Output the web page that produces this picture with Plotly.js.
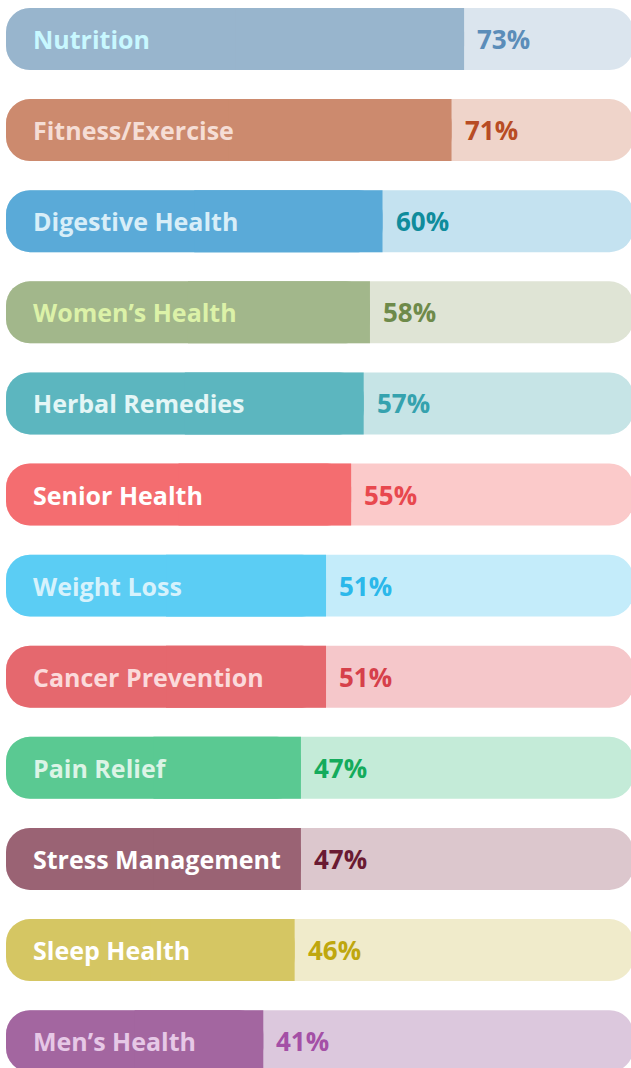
<!DOCTYPE html>
<html>
<head>
<meta charset="utf-8">
<script src="https://cdn.plot.ly/plotly-3.0.1.min.js"></script>
<style>html,body{margin:0;padding:0;background:#fff;}#chart{width:631px;height:1068px;}</style>
</head>
<body>
<div id="chart"></div>
<script>
const categories = ["Nutrition","Fitness/Exercise","Digestive Health","Women’s Health","Herbal Remedies","Senior Health","Weight Loss","Cancer Prevention","Pain Relief","Stress Management","Sleep Health","Men’s Health"];
const values = [73,71,60,58,57,55,51,51,47,47,46,41];
const fillColors = ["#98b5cd","#cc8a6e","#5aaad8","#a2b78b","#5cb6bf","#f46d70","#5bcdf4","#e5686e","#5ac992","#9a6374","#d5c663","#a366a0"];
const trackColors = ["#dbe5ee","#efd4ca","#c4e2f0","#dfe4d5","#c6e4e6","#fbcaca","#c4ecfa","#f5c7ca","#c4ebd8","#dcc7cd","#f0ebcb","#dcc8dd"];
const labelColors = ["#c8f8ff","#f5ddd5","#d8eef8","#dcf2a8","#e4f6f6","#ffffff","#d6f2fc","#fbdadb","#dcf4e6","#ffffff","#ffffff","#e6c8e6"];
const pctColors = ["#5b8db9","#b84c24","#0f8c9c","#6e8a4a","#35a2ae","#e8484e","#2bb8ea","#d6404a","#14ab5c","#6a1a32","#bfa70e","#a450a6"];
const pctLabels = values.map(v => v + "%");

const FULL = 100;
const W = 0.68, R = 24;
const font = "Open Sans, Noto Sans, sans-serif";

const traces = [
  // full track pill (rounded ends)
  {type:"bar", orientation:"h", y:categories, x:categories.map(()=>FULL), base:categories.map(()=>0),
   width:W, marker:{color:trackColors, cornerradius:R, line:{width:0}}, hoverinfo:"skip", showlegend:false},
  // filled value, rounded ends
  {type:"bar", orientation:"h", y:categories, x:values, base:values.map(()=>0),
   width:W, marker:{color:fillColors, cornerradius:R, line:{width:0}}, hoverinfo:"skip", showlegend:false},
  // square-off the value end of the fill
  {type:"bar", orientation:"h", y:categories, x:values.map(v=>v/2), base:values.map(v=>v/2),
   width:W, marker:{color:fillColors, line:{width:0}}, hoverinfo:"skip", showlegend:false}
];

const annotations = [];
categories.forEach((c,i)=>{
  annotations.push({x:0, y:c, xref:"x", yref:"y", text:c, showarrow:false, xanchor:"left", yanchor:"middle",
    xshift:25, font:{family:font, size:25, color:labelColors[i], weight:700}});
  annotations.push({x:values[i], y:c, xref:"x", yref:"y", text:pctLabels[i], showarrow:false, xanchor:"left", yanchor:"middle",
    xshift:11, font:{family:font, size:26, color:pctColors[i], weight:700}});
});

const layout = {
  width:631, height:1068,
  margin:{l:6, r:0, t:0, b:0},
  paper_bgcolor:"#ffffff", plot_bgcolor:"#ffffff",
  barmode:"overlay",
  xaxis:{range:[0, 99.6], visible:false, fixedrange:true},
  yaxis:{type:"category", categoryorder:"array", categoryarray:categories, range:[11.295, -0.428], visible:false, fixedrange:true},
  annotations:annotations,
  showlegend:false
};

Plotly.newPlot("chart", traces, layout, {displayModeBar:false, staticPlot:true});
</script>
</body>
</html>
